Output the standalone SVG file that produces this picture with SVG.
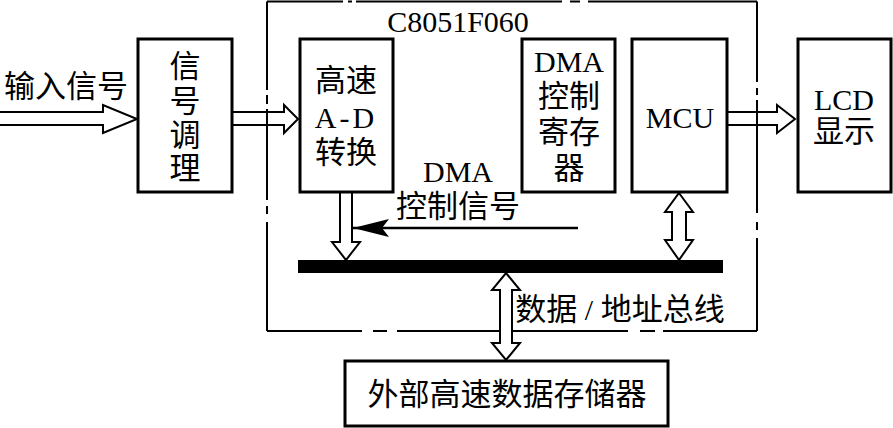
<svg xmlns="http://www.w3.org/2000/svg" width="893" height="428" viewBox="0 0 893 428">
<style>
.box{fill:#fff;stroke:#000;stroke-width:3}
.chain{fill:none;stroke:#000;stroke-width:2}
.ha{fill:none;stroke:#000;stroke-width:2;stroke-linejoin:miter}
.haw{fill:#fff;stroke:#000;stroke-width:2;stroke-linejoin:miter}
text{font-family:"Liberation Serif","Noto Sans CJK SC",serif;font-size:30px;fill:#000;text-anchor:middle}
.cjk{font-family:"Noto Sans CJK SC",sans-serif;font-size:31px}
</style>
<defs>
<marker id="ah" markerUnits="userSpaceOnUse" markerWidth="40" markerHeight="20" refX="36" refY="9" orient="auto" viewBox="0 0 40 20">
<path d="M36 9 L0 0 L7 9 L0 18 Z" fill="#000"/>
</marker>
</defs>
<rect width="893" height="428" fill="#fff"/>

<g id="c8051f060">
<path class="chain" d="M267 1.5H343M348 1.5H352M356 1.5H562M570 1.5H580M588 1.5H757M757 1.5V82M757 88V95M757 100V213M757 222V230M757 238V331M757 331H663M655 331H640M628 331H397M387 331H373M362 331H267M267 331V222M267 214V206M267 200V109M267 104V95M267 90V1.5"/>
<text x="458" y="32">C8051F060</text>
</g>

<g id="connectors">
<path class="ha" d="M0 112H103V105L137 119L103 133V125H0"/>
<path class="ha" d="M232 112H284V105L298 119L284 133V125H232"/>
<path class="ha" d="M727 112H777V105L795 119L777 133V125H727"/>
<path class="haw" d="M340 192V242H332L346 260L360 242H352V192"/>
<path d="M578 228H353" stroke="#000" stroke-width="2.5" fill="none" marker-end="url(#ah)"/>
<path class="haw" d="M679 193L693 212H686V240H693L679 260L665 240H672V212H665Z"/>
<path class="haw" d="M506 273L520 290H512V343H520L506 360L492 343H500V290H492Z"/>
<text class="cjk" x="66" y="97">输入信号</text>
<text x="458" y="182">DMA</text>
<text class="cjk" x="458" y="217">控制信号</text>
<text x="620" y="320"><tspan class="cjk">数据</tspan> / <tspan class="cjk">地址总线</tspan></text>
</g>

<g id="bus">
<rect x="298" y="260" width="425" height="13" fill="#000"/>
</g>

<g id="signal-cond">
<rect class="box" x="138" y="39" width="94" height="153"/>
<text class="cjk" x="185" y="77">信</text>
<text class="cjk" x="185" y="112">号</text>
<text class="cjk" x="185" y="146">调</text>
<text class="cjk" x="185" y="179">理</text>
</g>

<g id="adc">
<rect class="box" x="300" y="39" width="93" height="153"/>
<text class="cjk" x="346" y="91">高速</text>
<text x="346" y="128" letter-spacing="3">A-D</text>
<text class="cjk" x="346" y="163">转换</text>
</g>

<g id="dma-reg">
<rect class="box" x="522" y="39" width="93" height="153"/>
<text x="569" y="72">DMA</text>
<text class="cjk" x="569" y="107">控制</text>
<text class="cjk" x="569" y="143">寄存</text>
<text class="cjk" x="569" y="179">器</text>
</g>

<g id="mcu">
<rect class="box" x="632" y="39" width="95" height="153"/>
<text x="680" y="128">MCU</text>
</g>

<g id="lcd">
<rect class="box" x="798" y="39" width="93" height="153"/>
<text x="844" y="110">LCD</text>
<text class="cjk" x="844" y="142">显示</text>
</g>

<g id="ext-mem">
<rect class="box" x="345" y="361" width="323" height="65"/>
<text class="cjk" x="507" y="405">外部高速数据存储器</text>
</g>
</svg>
